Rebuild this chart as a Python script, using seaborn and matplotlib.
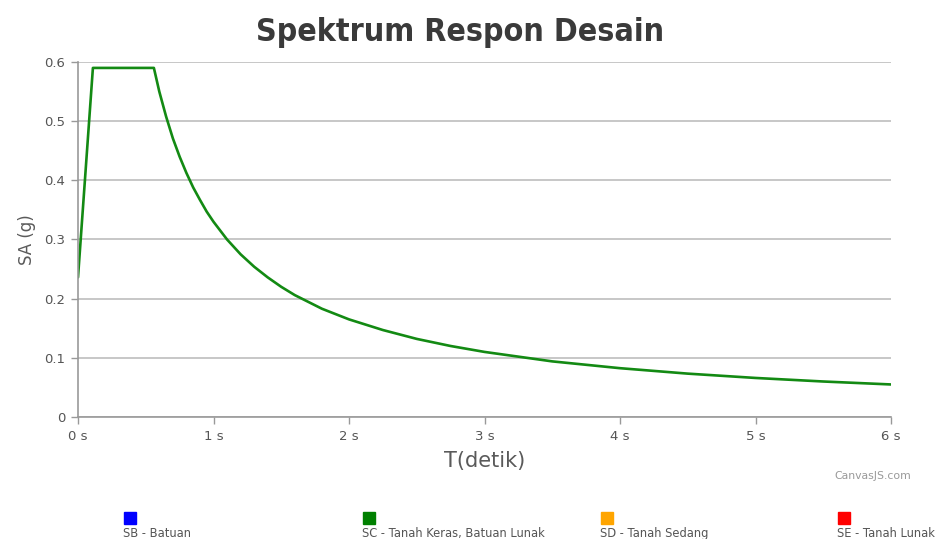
import pandas as pd
import numpy as np
import seaborn as sns
import matplotlib.pyplot as plt
from matplotlib.patches import Rectangle

# periode (detik) dan percepatan spektral SA (g)
periode = [0.0, 0.11, 0.56, 0.6, 0.65, 0.7, 0.75, 0.8, 0.85, 0.9, 0.95, 1.0,
           1.1, 1.2, 1.3, 1.4, 1.5, 1.6, 1.8, 2.0, 2.25, 2.5, 2.75, 3.0,
           3.5, 4.0, 4.5, 5.0, 5.5, 6.0]
sa_sc = [0.236, 0.59, 0.59, 0.55, 0.508, 0.471, 0.44, 0.4125, 0.388, 0.367, 0.347, 0.33,
         0.30, 0.275, 0.254, 0.236, 0.22, 0.206, 0.183, 0.165, 0.147, 0.132, 0.12, 0.11,
         0.094, 0.0825, 0.0733, 0.066, 0.06, 0.055]

legend_labels = ["SB - Batuan", "SC - Tanah Keras, Batuan Lunak",
                 "SD - Tanah Sedang", "SE - Tanah Lunak"]
legend_colors = ["#0000ff", "#008000", "#ffa500", "#ff0000"]

x_ticks = [0, 1, 2, 3, 4, 5, 6]
y_ticks = [0, 0.1, 0.2, 0.3, 0.4, 0.5, 0.6]

sns.set_style("white")
plt.rcParams['font.family'] = ['DejaVu Sans']

df = pd.DataFrame({"T": periode, "SA": sa_sc})

fig = plt.figure(figsize=(9.45, 5.39), dpi=100)
ax = fig.add_axes([78 / 945, 1 - 417 / 539, (891 - 78) / 945, (417 - 62) / 539])

sns.lineplot(data=df, x="T", y="SA", ax=ax, color="#138a13", linewidth=1.9)

ax.set_xlim(0, 6)
ax.set_ylim(0, 0.6)
ax.set_xticks(x_ticks)
ax.set_xticklabels([f"{t} s" for t in x_ticks])
ax.set_yticks(y_ticks)
ax.set_yticklabels(["0"] + [f"{v:.1f}" for v in y_ticks[1:]])
ax.yaxis.grid(True, color="#bdbdbd", linewidth=1.2)
ax.set_axisbelow(True)
for s in ["top", "right"]:
    ax.spines[s].set_visible(False)
for s in ["left", "bottom"]:
    ax.spines[s].set_color("#999999")
    ax.spines[s].set_linewidth(1.2)
ax.tick_params(axis="both", length=5, width=1, color="#999999",
               labelsize=9.5, labelcolor="#555555", pad=4)
ax.tick_params(axis="y", direction="out", left=True)
ax.tick_params(axis="x", direction="out", bottom=True)

ax.set_xlabel("T(detik)", fontsize=15, color="#5a5a5a", labelpad=6)
ax.set_ylabel("SA (g)", fontsize=12, color="#5a5a5a", labelpad=6)

fig.text(460 / 945, 1 - 33 / 539, "Spektrum Respon Desain",
         family=["DejaVu Sans"], fontweight="black", fontstretch="condensed",
         fontsize=23, color="#3a3a3a", ha="center", va="center")

fig.text(873 / 945, 1 - 476 / 539, "CanvasJS.com", fontsize=7.8,
         color="#999999", ha="center", va="center")

# legenda manual: kotak warna di atas, teks di bawah
leg_x = [124, 363, 601, 838]
for xl, lab, col in zip(leg_x, legend_labels, legend_colors):
    fig.patches.append(Rectangle((xl / 945, 1 - 524 / 539), 12 / 945, 12 / 539,
                                 transform=fig.transFigure, color=col))
    fig.text((xl - 1) / 945, 1 - 537 / 539, lab, fontsize=8.3,
             color="#555555", ha="left", va="baseline")

fig.savefig("out.png", dpi=100)
